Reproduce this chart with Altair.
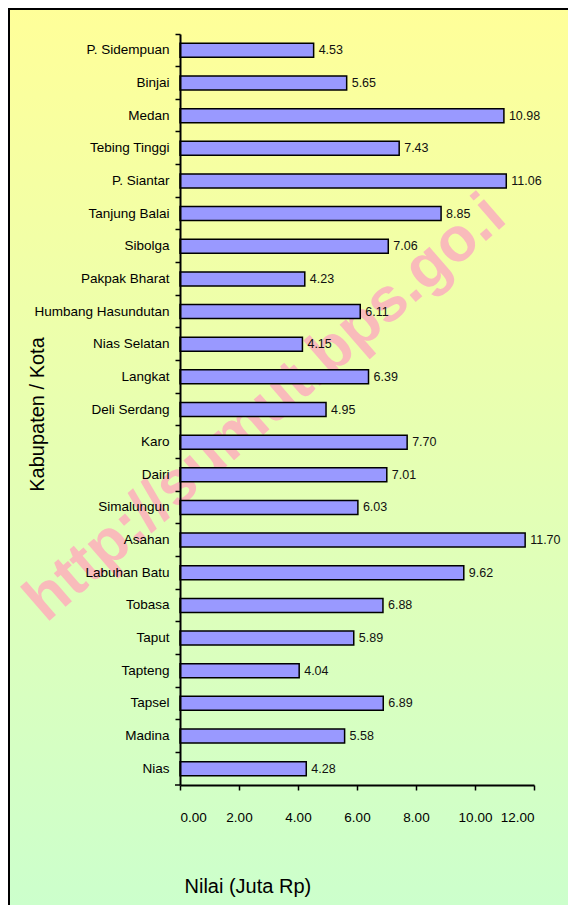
import altair as alt
import pandas as pd

names = [
    "P. Sidempuan", "Binjai", "Medan", "Tebing Tinggi", "P. Siantar",
    "Tanjung Balai", "Sibolga", "Pakpak Bharat", "Humbang Hasundutan",
    "Nias Selatan", "Langkat", "Deli Serdang", "Karo", "Dairi",
    "Simalungun", "Asahan", "Labuhan Batu", "Tobasa", "Taput",
    "Tapteng", "Tapsel", "Madina", "Nias",
]
values = [
    4.53, 5.65, 10.98, 7.43, 11.06,
    8.85, 7.06, 4.23, 6.11,
    4.15, 6.39, 4.95, 7.70, 7.01,
    6.03, 11.70, 9.62, 6.88, 5.89,
    4.04, 6.89, 5.58, 4.28,
]
x_ticks = [0, 2, 4, 6, 8, 10, 12]
x_title = "Nilai (Juta Rp)"
y_title = "Kabupaten / Kota"
watermark = "http://sumut.bps.go.i"

FONT = "Liberation Sans"
W, H = 354, 751
PAD = {"left": 172, "top": 26, "right": 34, "bottom": 120}
TOTAL_W = W + PAD["left"] + PAD["right"]
TOTAL_H = H + PAD["top"] + PAD["bottom"]

df = pd.DataFrame({"name": names, "value": values})
one = pd.DataFrame({"k": [0]})

gradient = alt.LinearGradient(
    gradient="linear",
    stops=[alt.GradientStop(offset=0, color="#FFFF99"),
           alt.GradientStop(offset=1, color="#CCFFCC")],
    x1=0, x2=0, y1=0, y2=1,
)

bg = alt.Chart(one).mark_rect(color=gradient).encode(
    x=alt.value(-PAD["left"]), x2=alt.value(TOTAL_W - PAD["left"]),
    y=alt.value(-PAD["top"]), y2=alt.value(TOTAL_H - PAD["top"]),
)
border_top = alt.Chart(one).mark_rule(color="black", strokeWidth=2).encode(
    x=alt.value(-PAD["left"]), x2=alt.value(TOTAL_W - PAD["left"]),
    y=alt.value(-PAD["top"] + 1),
)
border_left = alt.Chart(one).mark_rule(color="black", strokeWidth=2).encode(
    x=alt.value(-PAD["left"] + 1),
    y=alt.value(-PAD["top"]), y2=alt.value(TOTAL_H - PAD["top"]),
)

wm = alt.Chart(one).mark_text(
    text=watermark, font=FONT, fontSize=62, fontWeight="bold",
    color="#F9BBBB", angle=319, align="center", baseline="middle",
).encode(x=alt.value(85), y=alt.value(374))

y_enc = alt.Y(
    "name:N", sort=names,
    scale=alt.Scale(paddingInner=0, paddingOuter=0),
    axis=alt.Axis(
        title=y_title, titleFont=FONT, titleFontSize=20, titleFontWeight="normal",
        titleColor="black", titleAngle=270, titleX=-137, titleY=380,
        titleAlign="center", titleBaseline="alphabetic",
        labelFont=FONT, labelFontSize=13.5, labelColor="black", labelPadding=6,
        bandPosition=0, tickSize=5, tickColor="black", tickWidth=1.5,
        domainColor="black", domainWidth=2, grid=False, zindex=1,
    ),
)
x_enc = alt.X(
    "value:Q",
    scale=alt.Scale(domain=[0, 12], nice=False),
    axis=alt.Axis(
        values=x_ticks, format=".2f", title=x_title, titleFont=FONT,
        titleFontSize=20, titleFontWeight="normal", titleColor="black",
        titleAlign="left", titleX=4, titleY=107, titleBaseline="alphabetic",
        labelFont=FONT, labelFontSize=13.5, labelColor="black", labelPadding=20,
        tickSize=5, tickColor="black", tickWidth=1.5,
        domainColor="black", domainWidth=2, grid=False, zindex=1,
    ),
)

bars = alt.Chart(df).mark_bar(
    size=14, fill="#9999FF", stroke="black", strokeWidth=1.5
).encode(y=y_enc, x=x_enc)

labels = alt.Chart(df).mark_text(
    align="left", baseline="middle", dx=5, font=FONT, fontSize=12.5, color="#111111"
).encode(
    y=alt.Y("name:N", sort=names),
    x=alt.X("value:Q"),
    text=alt.Text("value:Q", format=".2f"),
)

bottom_tick = alt.Chart(one).mark_rule(color="black", strokeWidth=1.5).encode(
    x=alt.value(-5), x2=alt.value(0), y=alt.value(H),
)

chart = alt.layer(bg, border_top, border_left, wm, bars, labels, bottom_tick).properties(
    width=W, height=H, padding=PAD,
    autosize=alt.AutoSizeParams(type="none"),
).configure_view(stroke=None).configure(background="white")

chart.save("out.html", embed_options={"renderer": "svg", "actions": False})
